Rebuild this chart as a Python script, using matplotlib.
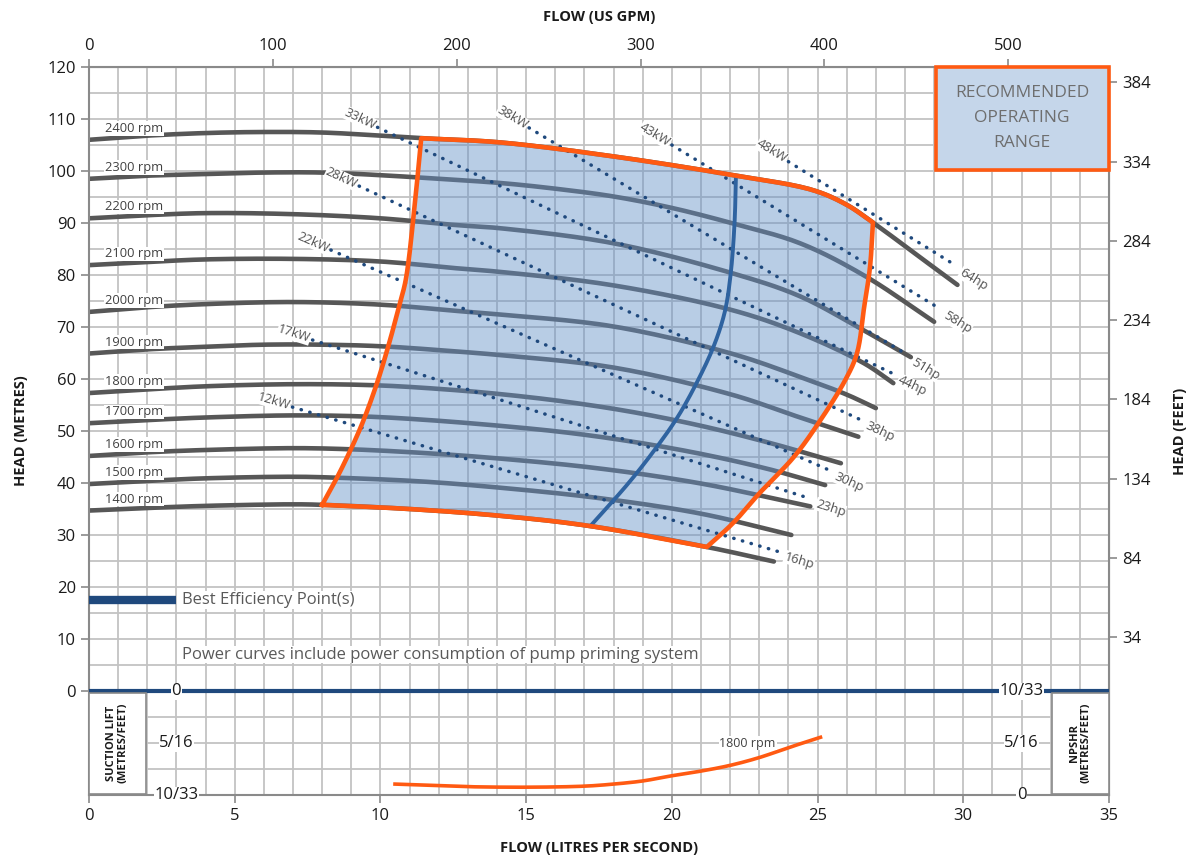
import numpy as np
import matplotlib
matplotlib.use('Agg')
import matplotlib.pyplot as plt
from matplotlib.patches import Polygon, Rectangle

plt.rcParams['font.family'] = ['Open Sans', 'DejaVu Sans']

# ---------------- data (flow L/s, head m) ----------------
rpm_labels = ['2400 rpm', '2300 rpm', '2200 rpm', '2100 rpm', '2000 rpm', '1900 rpm',
              '1800 rpm', '1700 rpm', '1600 rpm', '1500 rpm', '1400 rpm']

q_2400 = [0, 2, 4, 6, 8, 10, 11.4, 14.1, 18.0, 22.1, 24.85, 26.0, 26.9, 28.3, 29.8]
h_2400 = [106.0, 106.8, 107.3, 107.5, 107.4, 106.8, 106.3, 105.5, 102.8, 99.2, 96.3, 93.5, 90.1, 84.3, 78.1]
q_2300 = [0, 2, 4, 6, 8, 10, 12, 14.1, 16, 18, 20, 22.1, 24.4, 26.6, 29.0]
h_2300 = [98.5, 99.1, 99.4, 99.7, 99.7, 99.2, 98.5, 97.7, 96.6, 95.1, 92.9, 89.9, 86.1, 79.9, 71.0]
q_2200 = [0, 2, 4, 7, 10, 12.6, 14.1, 18.0, 22.1, 24.4, 26.6, 28.2]
h_2200 = [90.9, 91.5, 91.9, 91.7, 90.9, 89.6, 89.0, 86.1, 80.3, 75.9, 69.3, 64.2]
q_2100 = [0, 2, 4, 7, 10, 12.6, 14.1, 18.0, 22.1, 24.4, 26.6, 27.6]
h_2100 = [81.9, 82.5, 83.0, 83.1, 82.6, 81.3, 80.6, 78.0, 73.2, 68.8, 63.0, 59.2]
q_2000 = [0, 2, 4, 7, 10, 12.6, 14.1, 18.0, 22.1, 24.4, 26.0, 27.0]
h_2000 = [72.9, 73.8, 74.4, 74.8, 74.3, 73.1, 72.4, 70.1, 64.8, 60.4, 57.0, 54.4]
q_1900 = [0, 2, 4, 6, 8, 10, 12.6, 14.1, 18.0, 22.05, 24.4, 26.4]
h_1900 = [64.9, 65.7, 66.2, 66.6, 66.6, 66.3, 65.3, 64.6, 62.2, 57.0, 52.6, 48.9]
q_1800 = [0, 2, 4, 7, 9.8, 12, 14.1, 16.4, 18.7, 21.0, 23.3, 25.8]
h_1800 = [57.3, 58.0, 58.6, 59.0, 58.8, 58.1, 57.1, 55.6, 53.6, 51.0, 47.8, 43.8]
q_1700 = [0, 2, 4, 7, 9.4, 11.4, 14.1, 16.4, 18.7, 21.0, 23.3, 25.26]
h_1700 = [51.5, 52.1, 52.6, 53.0, 52.8, 52.2, 51.0, 49.7, 47.9, 45.6, 42.7, 39.6]
q_1600 = [0, 2, 4, 7, 8.9, 11.4, 14.1, 17.5, 21.0, 24.75]
h_1600 = [45.2, 45.9, 46.35, 46.7, 46.5, 45.8, 44.7, 42.8, 39.9, 35.5]
q_1500 = [0, 2, 4, 7, 8.6, 11.4, 14.1, 17.5, 21.0, 24.1]
h_1500 = [39.8, 40.4, 40.9, 41.2, 41.0, 40.3, 39.1, 37.1, 34.1, 30.0]
q_1400 = [0, 2, 4, 7, 8.0, 11, 14.1, 17.1, 21.2, 23.5]
h_1400 = [34.7, 35.2, 35.6, 35.9, 35.8, 35.0, 33.7, 31.8, 27.7, 24.9]

# recommended operating range outline
range_left_q = [8.0, 8.47, 8.92, 9.38, 9.9, 10.3, 10.64, 10.87, 11.15, 11.4]
range_left_h = [35.8, 40.6, 45.7, 51.5, 59.5, 66.9, 74.0, 79.1, 92.0, 106.3]
range_top_q = [11.4, 14.1, 18.0, 22.1, 24.85, 26.0, 26.9]
range_top_h = [106.3, 105.5, 102.8, 99.2, 96.3, 93.5, 90.1]
range_right_q = [26.9, 26.8, 26.6, 26.35, 25.95, 25.1, 24.2, 23.0, 22.1, 21.2]
range_right_h = [90.1, 81.6, 73.9, 64.9, 59.8, 52.1, 45.1, 38.0, 32.3, 27.7]
range_bottom_q = [21.2, 17.1, 14.1, 11.0, 8.0]
range_bottom_h = [27.7, 31.8, 33.7, 35.0, 35.8]

# best efficiency point line
bep_q = [17.2, 18.5, 19.4, 20.2, 20.9, 21.45, 21.82, 22.02, 22.15, 22.2]
bep_h = [31.7, 39.9, 46.3, 52.7, 59.8, 66.5, 73.0, 80.3, 89.9, 99.2]

# power lines
kw_labels = ['12kW', '17kW', '22kW', '28kW', '33kW', '38kW', '43kW', '48kW']
hp_labels = ['16hp', '23hp', '30hp', '38hp', '44hp', '51hp', '58hp', '64hp']
pw_start_q = [6.98, 7.67, 8.3, 9.27, 9.9, 15.1, 20.0, 24.0]
pw_start_h = [54.6, 67.5, 84.8, 97.1, 108.4, 108.3, 105.0, 101.8]
pw_end_q = [23.66, 24.75, 25.43, 26.5, 27.6, 28.1, 29.2, 29.75]
pw_end_h = [26.8, 37.0, 42.4, 52.1, 61.0, 64.6, 73.5, 81.8]

# NPSHR at 1800 rpm (metres)
npshr_q = [10.5, 12, 13, 15, 17, 18, 19, 20, 21, 22, 23, 24, 25.1]
npshr_m = [1.05, 0.9, 0.8, 0.75, 0.85, 1.05, 1.35, 1.85, 2.3, 2.85, 3.6, 4.55, 5.55]

head_ticks = [0, 10, 20, 30, 40, 50, 60, 70, 80, 90, 100, 110, 120]
flow_ticks = [0, 5, 10, 15, 20, 25, 30, 35]
gpm_ticks = [0, 100, 200, 300, 400, 500]
feet_ticks = [34, 84, 134, 184, 234, 284, 334, 384]
suction_labels = ['0', '5/16', '10/33']
suction_m = [0, 5, 10]
npshr_labels = ['10/33', '5/16', '0']
npshr_axis_m = [10, 5, 0]


def smooth(xs, ys, n=16):
    """Centripetal Catmull-Rom rendering through the read points (drawn in pixel-like units)."""
    sx, sy = 29.14, 5.2
    P = np.column_stack([np.asarray(xs, float) * sx, np.asarray(ys, float) * sy])
    if len(P) < 3:
        return list(xs), list(ys)
    P = np.vstack([2 * P[0] - P[1], P, 2 * P[-1] - P[-2]])
    out = []
    for i in range(1, len(P) - 2):
        p0, p1, p2, p3 = P[i - 1], P[i], P[i + 1], P[i + 2]
        t0 = 0.0
        t1 = t0 + max(np.linalg.norm(p1 - p0), 1e-6) ** 0.5
        t2 = t1 + max(np.linalg.norm(p2 - p1), 1e-6) ** 0.5
        t3 = t2 + max(np.linalg.norm(p3 - p2), 1e-6) ** 0.5
        t = np.linspace(t1, t2, n)[:, None]
        A1 = (t1 - t) / (t1 - t0) * p0 + (t - t0) / (t1 - t0) * p1
        A2 = (t2 - t) / (t2 - t1) * p1 + (t - t1) / (t2 - t1) * p2
        A3 = (t3 - t) / (t3 - t2) * p2 + (t - t2) / (t3 - t2) * p3
        B1 = (t2 - t) / (t2 - t0) * A1 + (t - t0) / (t2 - t0) * A2
        B2 = (t3 - t) / (t3 - t1) * A2 + (t - t1) / (t3 - t1) * A3
        C = (t2 - t) / (t2 - t1) * B1 + (t - t1) / (t2 - t1) * B2
        out.append(C if i == 1 else C[1:])
    C = np.vstack(out)
    return list(C[:, 0] / sx), list(C[:, 1] / sy)


# ---------------- figure ----------------
W, H = 1192, 861
fig = plt.figure(figsize=(W / 100, H / 100), dpi=100)
ax = fig.add_axes([89 / W, 1 - 795 / H, (1109 - 89) / W, (795 - 67) / H])
ax.set_xlim(0, 35)
ax.set_ylim(-20, 120)

GRID = '#c3c3c3'
SPINE = '#8a8a8a'
CURVE = '#575757'
ORANGE = '#ff5a12'
NAVY = '#1f497d'
BEPC = '#2f63a0'
TXT = '#404040'

ax.set_xticks(flow_ticks)
ax.set_xticks(np.arange(0, 36, 1), minor=True)
ax.set_yticks(head_ticks)
ax.set_yticks(np.arange(-20, 121, 5), minor=True)
ax.grid(which='both', color=GRID, lw=1.3, zorder=0)
ax.set_axisbelow(True)
ax.tick_params(which='minor', length=0)
ax.tick_params(which='major', length=6, color=SPINE, labelsize=12, labelcolor='#1a1a1a', width=1.2)
for s in ax.spines.values():
    s.set_color(SPINE)
    s.set_linewidth(1.5)

curves = [(q_2400, h_2400), (q_2300, h_2300), (q_2200, h_2200), (q_2100, h_2100),
          (q_2000, h_2000), (q_1900, h_1900), (q_1800, h_1800), (q_1700, h_1700),
          (q_1600, h_1600), (q_1500, h_1500), (q_1400, h_1400)]
for (q, h), lab in zip(curves, rpm_labels):
    sq, sh = smooth(q, h)
    ax.plot(sq, sh, color=CURVE, lw=3.3, solid_capstyle='round', zorder=2)
    ax.text(1.55, h[0] + 2.2, lab, fontsize=9.3, color=TXT, ha='center', va='center', zorder=7,
            bbox=dict(facecolor='white', edgecolor='none', pad=0.5))

# operating range fill + outline (each edge rendered smoothly, corners kept)
lq, lh = smooth(range_left_q, range_left_h)
tq, th = smooth(range_top_q, range_top_h)
rq, rh = smooth(range_right_q, range_right_h)
bq, bh = smooth(range_bottom_q, range_bottom_h)
poly_q = lq + tq[1:] + rq[1:] + bq[1:]
poly_h = lh + th[1:] + rh[1:] + bh[1:]
ax.add_patch(Polygon(np.column_stack([poly_q, poly_h]), closed=True, facecolor='#6390c7',
                     alpha=0.45, edgecolor='none', zorder=3))

# power lines
for i in range(len(kw_labels)):
    qs, hs, qe, he = pw_start_q[i], pw_start_h[i], pw_end_q[i], pw_end_h[i]
    ax.plot([qs, qe], [hs, he], color=NAVY, lw=2.5, linestyle=(0, (0.1, 2.5)),
            dash_capstyle='round', zorder=4)
    p0 = ax.transData.transform((qs, hs))
    p1 = ax.transData.transform((qe, he))
    ang = np.degrees(np.arctan2(p1[1] - p0[1], p1[0] - p0[0]))
    c, s = np.cos(np.radians(ang)), np.sin(np.radians(ang))
    ax.annotate(kw_labels[i], xy=(qs, hs), xytext=(-2 * c, -2 * s), textcoords='offset points',
                rotation=ang, rotation_mode='anchor', ha='right', va='center', fontsize=9.3,
                color='#505050', zorder=7,
                bbox=dict(facecolor='white', edgecolor='none', pad=0.2))
    ax.annotate(hp_labels[i], xy=(qe, he), xytext=(5 * c + 2 * s, 5 * s - 2 * c), textcoords='offset points',
                rotation=ang, rotation_mode='anchor', ha='left', va='center', fontsize=9.3,
                color='#505050', zorder=7,
                bbox=dict(facecolor='white', edgecolor='none', pad=0.2))

# BEP
eq, eh = smooth(bep_q, bep_h)
ax.plot(eq, eh, color=BEPC, lw=2.8, zorder=5, solid_capstyle='butt')
# outline
ax.plot(poly_q + [poly_q[0]], poly_h + [poly_h[0]], color=ORANGE, lw=3.3, zorder=6,
        solid_joinstyle='round')

# recommended box
ax.add_patch(Rectangle((29.05, 100.2), 35 - 29.05, 120 - 100.2, facecolor='#c5d6ea',
                       edgecolor=ORANGE, lw=2.6, zorder=8, clip_on=False))
ax.text(32.02, 110.1, 'RECOMMENDED\nOPERATING\nRANGE', ha='center', va='center', fontsize=12.5,
        color='#6e6e6e', linespacing=1.75, zorder=9)

# legend-like annotations
ax.plot([0, 3.0], [17.5, 17.5], color=NAVY, lw=6, solid_capstyle='butt', zorder=5)
ax.text(3.2, 17.5, 'Best Efficiency Point(s)', fontsize=12, color='#595959', va='center', ha='left',
        zorder=7, bbox=dict(facecolor='white', edgecolor='none', pad=0.5))
ax.text(3.2, 7.0, 'Power curves include power consumption of pump priming system', fontsize=12,
        color='#595959', va='center', ha='left', zorder=7,
        bbox=dict(facecolor='white', edgecolor='none', pad=0.5))

# zero line of the lower section
ax.plot([0, 35], [0, 0], color=NAVY, lw=3, zorder=5, solid_capstyle='butt')

# lower section: suction lift (left) and NPSHR (right)
for lab, m in zip(suction_labels, suction_m):
    ax.text(3.0, -2 * m, lab, ha='center', va='center', fontsize=12, color='#1a1a1a', zorder=9,
            bbox=dict(facecolor='white', edgecolor='none', pad=0.4))
for lab, m in zip(npshr_labels, npshr_axis_m):
    ax.text(32.0, -20 + 2 * m, lab, ha='center', va='center', fontsize=12, color='#1a1a1a', zorder=9,
            bbox=dict(facecolor='white', edgecolor='none', pad=0.4))

ax.add_patch(Rectangle((0, -19.8), 1.95, 19.4, facecolor='white', edgecolor='#8a8a8a', lw=1.2, zorder=8))
ax.text(0.97, -10, 'SUCTION LIFT\n(METRES/FEET)', rotation=90, ha='center', va='center', fontsize=8,
        fontweight='bold', color='#1a1a1a', linespacing=1.1, zorder=9)
ax.add_patch(Rectangle((33.05, -19.8), 1.95, 19.4, facecolor='white', edgecolor='#8a8a8a', lw=1.2, zorder=8))
ax.text(34.02, -10, 'NPSHR\n(METRES/FEET)', rotation=90, ha='center', va='center', fontsize=8,
        fontweight='bold', color='#1a1a1a', linespacing=1.1, zorder=9)

nq, nh = smooth(npshr_q, [-20 + 2 * v for v in npshr_m])
ax.plot(nq, nh, color=ORANGE, lw=2.6, zorder=6)
ax.text(22.6, -10, '1800 rpm', fontsize=9, color='#404040', ha='center', va='center', zorder=7,
        bbox=dict(facecolor='white', edgecolor='none', pad=0.5))

# axis titles
ax.set_xlabel('FLOW (LITRES PER SECOND)', fontsize=10.5, fontweight='bold', color='#1a1a1a', labelpad=12)
ax.set_ylabel('HEAD (METRES)', fontsize=10.5, fontweight='bold', color='#1a1a1a', labelpad=14)

top = ax.secondary_xaxis('top', functions=(lambda q: q * 15.8503, lambda g: g / 15.8503))
top.set_xticks(gpm_ticks)
top.tick_params(length=6, color=SPINE, labelsize=12, labelcolor='#1a1a1a', width=1.2)
top.set_xlabel('FLOW (US GPM)', fontsize=10.5, fontweight='bold', color='#1a1a1a', labelpad=12)
top.spines['top'].set_color(SPINE)

right = ax.secondary_yaxis('right', functions=(lambda m: m * 3.28084, lambda f: f / 3.28084))
right.set_yticks(feet_ticks)
right.tick_params(length=6, color=SPINE, labelsize=12, labelcolor='#1a1a1a', width=1.2)
right.set_ylabel('HEAD (FEET)', fontsize=10.5, fontweight='bold', color='#1a1a1a', labelpad=16,
                 rotation=90)
right.spines['right'].set_color(SPINE)

fig.savefig('out.png', dpi=100)
